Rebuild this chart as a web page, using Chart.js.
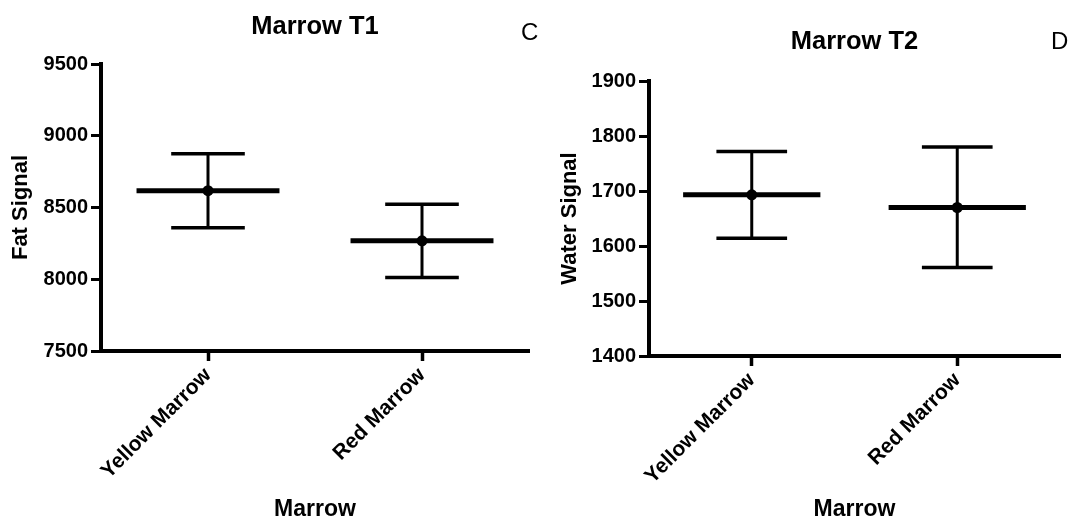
<!DOCTYPE html>
<html>
<head>
<meta charset="utf-8">
<script src="https://cdn.jsdelivr.net/npm/chart.js@4.4.1/dist/chart.umd.min.js"></script>
<style>
    html, body { margin: 0; padding: 0; background: #ffffff; }
    .panel { position: absolute; top: 0; height: 525px; }
    #panelT1 { left: 0; width: 540px; }
    #panelT2 { left: 540px; width: 531px; }
</style>
</head>
<body>
<div class="panel" id="panelT1"><canvas id="chartT1"></canvas></div>
<div class="panel" id="panelT2"><canvas id="chartT2"></canvas></div>
<script>
// Data (mean with error bars)
const categories = ['Yellow Marrow', 'Red Marrow'];

const t1Mean  = [8617, 8268];
const t1Upper = [8875, 8522];
const t1Lower = [8359, 8012];
const t1Ticks = [7500, 8000, 8500, 9000, 9500];

const t2Mean  = [1693, 1670];
const t2Upper = [1772, 1780];
const t2Lower = [1614, 1561];
const t2Ticks = [1400, 1500, 1600, 1700, 1800, 1900];

// Chart.js defaults
Chart.defaults.font.family = "'Liberation Sans', Arial, sans-serif";
Chart.defaults.color = '#000000';

/**
 * Draws mean line, whisker and caps for each category
 */
const errorBarPlugin = {
    id: 'errorBars',
    beforeDatasetsDraw(chart, args, opts) {
        const { ctx, scales: { x, y } } = chart;
        const step = x.getPixelForValue(1) - x.getPixelForValue(0);
        const meanHalf = step * 0.334;
        const capHalf = step * 0.172;

        const seg = (x1, y1, x2, y2, w) => {
            ctx.lineWidth = w;
            ctx.beginPath();
            ctx.moveTo(x1, y1);
            ctx.lineTo(x2, y2);
            ctx.stroke();
        };

        ctx.save();
        ctx.strokeStyle = '#000';
        ctx.lineCap = 'butt';
        opts.means.forEach((m, i) => {
            const cx = x.getPixelForValue(i);
            const yMean = y.getPixelForValue(m);
            const yHi = y.getPixelForValue(opts.upper[i]);
            const yLo = y.getPixelForValue(opts.lower[i]);
            seg(cx, yHi, cx, yLo, 3);
            seg(cx - capHalf, yHi, cx + capHalf, yHi, 3.5);
            seg(cx - capHalf, yLo, cx + capHalf, yLo, 3.5);
            seg(cx - meanHalf, yMean, cx + meanHalf, yMean, 5);
        });
        ctx.restore();
    }
};

/**
 * Panel heading centred over the plot area plus the corner letter
 */
const panelTextPlugin = {
    id: 'panelText',
    afterDraw(chart, args, opts) {
        const { ctx, chartArea } = chart;
        ctx.save();
        ctx.fillStyle = '#000';
        ctx.textBaseline = 'alphabetic';
        ctx.textAlign = 'center';
        ctx.font = "bold 25.5px 'Liberation Sans', Arial, sans-serif";
        ctx.fillText(opts.title, (chartArea.left + chartArea.right) / 2, opts.titleBaseline);
        ctx.textAlign = 'left';
        ctx.font = opts.letterSize + "px 'Liberation Sans', Arial, sans-serif";
        ctx.fillText(opts.letter, opts.letterX, opts.letterBaseline);
        ctx.restore();
    }
};

/**
 * Build one mean / error bar panel
 */
function initMarrowChart(canvasId, cfg) {
    const ctx = document.getElementById(canvasId)?.getContext('2d');
    if (!ctx) return;

    const ticks = cfg.ticks;

    new Chart(ctx, {
        type: 'line',
        data: {
            labels: categories,
            datasets: [
                {
                    data: cfg.means,
                    showLine: false,
                    pointRadius: 5.5,
                    pointBackgroundColor: '#000',
                    pointBorderColor: '#000',
                    pointBorderWidth: 0,
                }
            ]
        },
        plugins: [errorBarPlugin, panelTextPlugin],
        options: {
            responsive: true,
            maintainAspectRatio: false,
            animation: false,
            layout: {
                padding: { top: cfg.top, right: cfg.right, left: 0, bottom: 0 }
            },
            plugins: {
                legend: { display: false },
                tooltip: { enabled: false },
                errorBars: { means: cfg.means, upper: cfg.upper, lower: cfg.lower },
                panelText: cfg.text
            },
            scales: {
                x: {
                    type: 'category',
                    offset: true,
                    border: { display: true, color: '#000', width: 4 },
                    grid: {
                        drawOnChartArea: false,
                        offset: false,
                        tickLength: 10,
                        tickWidth: 3.5,
                        tickColor: '#000'
                    },
                    ticks: {
                        autoSkip: false,
                        minRotation: 45,
                        maxRotation: 45,
                        padding: 2,
                        color: '#000',
                        font: { size: 21, weight: 'bold' }
                    },
                    title: {
                        display: true,
                        text: 'Marrow',
                        color: '#000',
                        font: { size: 23, weight: 'bold' },
                        padding: { top: 0, bottom: 2 }
                    },
                    afterFit: (s) => {
                        s.height = cfg.xHeight;
                        s.paddingLeft = 0;
                        s.paddingRight = 0;
                    }
                },
                y: {
                    min: ticks[0],
                    max: ticks[ticks.length - 1],
                    border: { display: true, color: '#000', width: 4 },
                    grid: {
                        drawOnChartArea: false,
                        tickLength: 10,
                        tickWidth: 3,
                        tickColor: '#000'
                    },
                    ticks: {
                        stepSize: ticks[1] - ticks[0],
                        padding: 3,
                        color: '#000',
                        font: { size: 20, weight: 'bold' },
                        callback: (v) => String(v)
                    },
                    title: {
                        display: true,
                        text: cfg.yTitle,
                        color: '#000',
                        font: { size: 22, weight: 'bold' },
                        padding: { top: cfg.yTitlePad, bottom: 0 }
                    },
                    afterFit: (s) => {
                        s.width = cfg.yWidth;
                        s.paddingTop = 0;
                        s.paddingBottom = 0;
                    }
                }
            }
        }
    });
}

initMarrowChart('chartT1', {
    means: t1Mean, upper: t1Upper, lower: t1Lower, ticks: t1Ticks,
    yTitle: 'Fat Signal', yTitlePad: 8,
    top: 64, right: 11, yWidth: 101, xHeight: 174,
    text: { title: 'Marrow T1', titleBaseline: 34, letter: 'C', letterX: 521, letterBaseline: 40, letterSize: 24 }
});

initMarrowChart('chartT2', {
    means: t2Mean, upper: t2Upper, lower: t2Lower, ticks: t2Ticks,
    yTitle: 'Water Signal', yTitlePad: 17,
    top: 81, right: 11, yWidth: 109, xHeight: 169,
    text: { title: 'Marrow T2', titleBaseline: 49, letter: 'D', letterX: 511, letterBaseline: 49, letterSize: 24 }
});
</script>
</body>
</html>
